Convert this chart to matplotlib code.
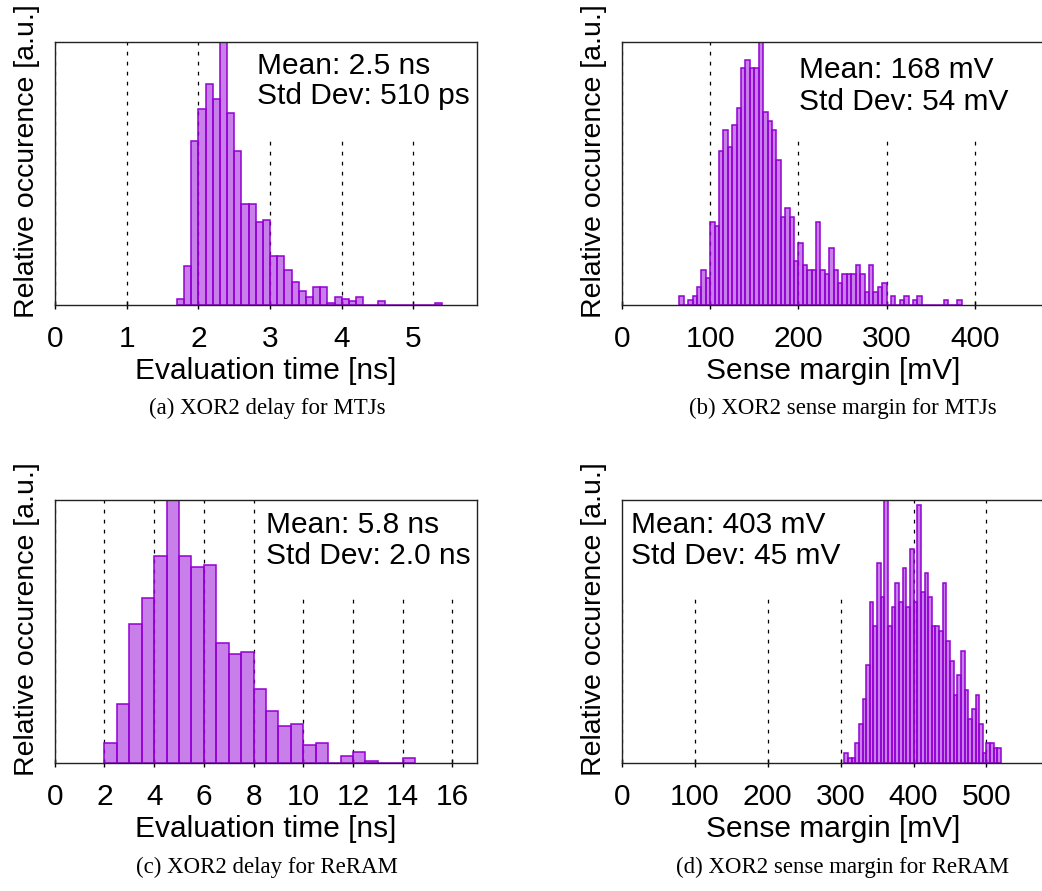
import numpy as np
import matplotlib.pyplot as plt
from matplotlib.patches import Rectangle

plt.rcParams['font.family'] = ['Liberation Sans', 'DejaVu Sans']

# (a) XOR2 delay, MTJ  -- bins of 0.1 ns starting at 1.7 ns
a_start, a_width = 1.7, 0.1
a_counts = [3, 19, 81, 97, 109, 102, 130, 95, 76, 50,
            50, 41, 42, 24, 24, 17, 11, 7, 4, 9,
            9, 1, 4, 3, 2, 4, 0, 0, 2, 0,
            0, 0, 0, 0, 0, 0, 1]

# (b) XOR2 sense margin, MTJ -- bins of 5 mV starting at 65 mV
b_start, b_width = 65, 5
b_counts = [2, 0, 1, 2, 4, 8, 6, 19, 18, 35,
            40, 36, 41, 45, 54, 56, 54, 54, 60, 44,
            42, 40, 33, 20, 22, 20, 10, 14, 9, 8,
            8, 19, 8, 7, 13, 8, 5, 7, 7, 7,
            9, 7, 3, 9, 3, 4, 5, 0, 2, 0,
            1, 2, 0, 1, 2, 0, 0, 0, 0, 0,
            1, 0, 0, 1]

# (c) XOR2 delay, ReRAM -- bins of 0.5 ns starting at 2 ns
c_start, c_width = 2.0, 0.5
c_counts = [9, 27, 64, 76, 95, 121, 95, 90, 91, 55,
            50, 51, 34, 24, 17, 18, 8, 9, 0, 3,
            5, 1, 0, 0, 2]

# (d) XOR2 sense margin, ReRAM -- bins of 5 mV starting at 305 mV
d_start, d_width = 305, 5
d_counts = [2, 1, 1, 4, 8, 13, 20, 33, 28, 41,
            34, 54, 28, 32, 37, 33, 40, 32, 44, 33,
            53, 35, 39, 34, 28, 28, 27, 37, 25, 21,
            14, 18, 23, 15, 9, 11, 14, 8, 2, 4,
            4, 3, 3]

panels = [
    dict(counts=a_counts, start=a_start, width=a_width, xmax=5.89, ticks=[0, 1, 2, 3, 4, 5],
         box=(55, 477.3, 42, 304.7), xlabel='Evaluation time [ns]',
         stats=['Mean: 2.5 ns', 'Std Dev: 510 ps'], text_xy=(257, 73.5),
         white=(245, 478, 42, 140), caption='(a) XOR2 delay for MTJs', cap_x=267, cap_y=414),
    dict(counts=b_counts, start=b_start, width=b_width, xmax=478.5, ticks=[0, 100, 200, 300, 400],
         box=(622, 1044, 42, 304.7), xlabel='Sense margin [mV]',
         stats=['Mean: 168 mV', 'Std Dev: 54 mV'], text_xy=(799, 78.5),
         white=(787, 1044, 42, 140), caption='(b) XOR2 sense margin for MTJs', cap_x=843, cap_y=414),
    dict(counts=c_counts, start=c_start, width=c_width, xmax=17.0, ticks=list(range(0, 17, 2)),
         box=(54.7, 477.3, 500, 762.7), xlabel='Evaluation time [ns]',
         stats=['Mean: 5.8 ns', 'Std Dev: 2.0 ns'], text_xy=(266.5, 533),
         white=(259, 478, 500, 598), caption='(c) XOR2 delay for ReRAM', cap_x=267, cap_y=873),
    dict(counts=d_counts, start=d_start, width=d_width, xmax=578.9, ticks=[0, 100, 200, 300, 400, 500],
         box=(622, 1044, 500, 762.7), xlabel='Sense margin [mV]',
         stats=['Mean: 403 mV', 'Std Dev: 45 mV'], text_xy=(631, 533),
         white=(622, 850, 500, 598), caption='(d) XOR2 sense margin for ReRAM', cap_x=843, cap_y=873),
]

W, H = 1042, 891
fig = plt.figure(figsize=(W / 100, H / 100), dpi=100)

fill = (0.58, 0.0, 0.83, 0.5)
edge = '#9400d3'

for p in panels:
    x0, x1, y0, y1 = p['box']
    ax = fig.add_axes([x0 / W, 1 - y1 / H, (x1 - x0) / W, (y1 - y0) / H])
    counts = np.array(p['counts'])
    lefts = p['start'] + p['width'] * np.arange(len(counts))
    ax.bar(lefts, counts, width=p['width'], align='edge', color=fill,
           edgecolor=edge, linewidth=1.1, zorder=2)
    ax.set_xlim(0, p['xmax'])
    ax.set_ylim(0, counts.max())
    ax.set_xticks(p['ticks'])
    ax.set_yticks([])
    ax.set_axisbelow(True)
    ax.xaxis.grid(True, linestyle=(0, (3, 5)), color='black', linewidth=0.9)
    ax.tick_params(axis='x', direction='inout', length=6, width=1, pad=11.5,
                   labelsize=21.5, top=False)
    for s in ax.spines.values():
        s.set_linewidth(1.0)
        s.set_color('#222222')

    # opaque area behind the stats label (hides the grid lines)
    wx0, wx1, wy0, wy1 = p['white']
    ax.add_patch(Rectangle(((wx0 - x0) / (x1 - x0), 1 - (wy1 - y0) / (y1 - y0)),
                           (wx1 - wx0) / (x1 - x0), (wy1 - wy0) / (y1 - y0),
                           transform=ax.transAxes, facecolor='white',
                           edgecolor='none', zorder=1, clip_on=False))

    tx, ty = p['text_xy']
    for i, line in enumerate(p['stats']):
        fig.text(tx / W, 1 - (ty + 31 * i) / H, line, fontsize=21.5,
                 ha='left', va='baseline')

    fig.text(((x0 + x1) / 2) / W, 1 - (y1 + 74.6) / H, p['xlabel'],
             fontsize=21.5, ha='center', va='baseline')
    fig.text((x0 - 28) / W, 1 - (y0 + 119) / H, 'Relative occurence [a.u.]',
             fontsize=20.5, rotation=90, ha='center', va='center')
    fig.text(p['cap_x'] / W, 1 - p['cap_y'] / H, p['caption'],
             fontsize=16.5, family=['Liberation Serif', 'DejaVu Serif'],
             ha='center', va='baseline')

fig.savefig('out.png', dpi=100)
